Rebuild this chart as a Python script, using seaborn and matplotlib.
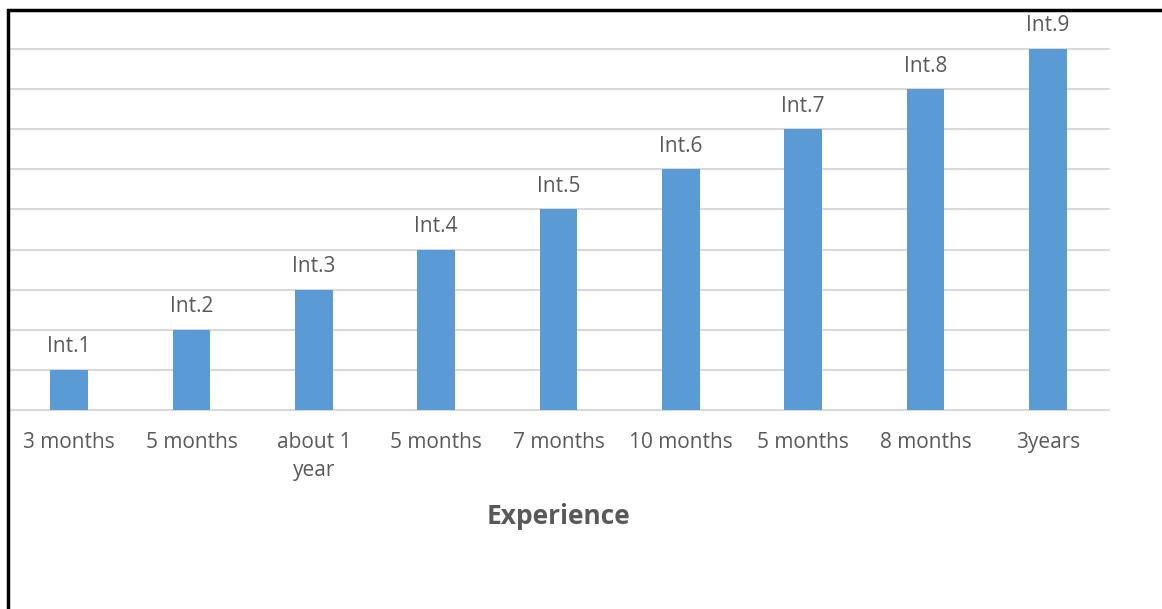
import pandas as pd
import seaborn as sns
import matplotlib.pyplot as plt
from matplotlib.patches import Rectangle

# data
interviews = ["Int.1", "Int.2", "Int.3", "Int.4", "Int.5", "Int.6", "Int.7", "Int.8", "Int.9"]
experience = ["3 months", "5 months", "about 1\nyear", "5 months", "7 months",
              "10 months", "5 months", "8 months", "3years"]
values = [1, 2, 3, 4, 5, 6, 7, 8, 9]

df = pd.DataFrame({"interview": interviews, "value": values})

sns.set_style("white")
plt.rcParams["font.family"] = ["Open Sans", "DejaVu Sans"]

fig = plt.figure(figsize=(11.62, 6.09), dpi=100)
ax = fig.add_axes([8 / 1162, 1 - 410 / 609, (1109 - 8) / 1162, (410 - 49) / 609])

sns.barplot(data=df, x="interview", y="value", color="#5b9bd5", width=0.31,
            saturation=1, linewidth=0, ax=ax, zorder=3)

# gridlines
ax.set_ylim(0, 9)
ax.set_yticks(range(0, 10))
ax.yaxis.grid(True, color="#d9d9d9", linewidth=1.5, zorder=0)
for gl in ax.get_ygridlines():
    gl.set_clip_on(False)
ax.set_axisbelow(True)
ax.tick_params(axis="y", left=False, labelleft=False)
ax.tick_params(axis="x", bottom=False, pad=12, labelsize=15, labelcolor="#595959")
for s in ax.spines.values():
    s.set_visible(False)

ax.set_xticks(range(len(experience)))
ax.set_xticklabels(experience, linespacing=1.45)
ax.set_xlim(-0.5, len(experience) - 0.5)

# bar labels
for i, (name, v) in enumerate(zip(interviews, values)):
    ax.annotate(name, (i, v), xytext=(0, 9), textcoords="offset points",
                ha="center", va="bottom", fontsize=15, color="#595959",
                annotation_clip=False)

ax.set_xlabel("Experience", fontsize=19, fontweight="bold", color="#595959", labelpad=16)
ax.set_ylabel("")

# black frame around the chart
fig.patches.append(Rectangle((8 / 1162, -0.1), 1.2, 1 - 10 / 609 + 0.1,
                             transform=fig.transFigure, fill=False,
                             edgecolor="black", linewidth=2.5))

plt.savefig("out.png", dpi=100)
